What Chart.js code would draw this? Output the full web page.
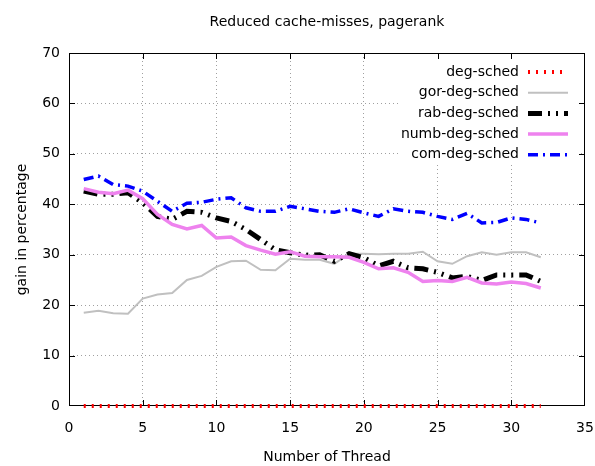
<!DOCTYPE html>
<html>
<head>
<meta charset="utf-8">
<script src="https://cdn.jsdelivr.net/npm/chart.js@4.4.1/dist/chart.umd.min.js"></script>
<style>
  html, body { margin: 0; padding: 0; background: #fff; }
  #wrap { width: 595px; height: 466px; }
</style>
</head>
<body>
<div id="wrap"><canvas id="grafico"></canvas></div>
<script>
const threads = [1, 2, 3, 4, 5, 6, 7, 8, 9, 10, 11, 12, 13, 14, 15, 16,
                 17, 18, 19, 20, 21, 22, 23, 24, 25, 26, 27, 28, 29, 30, 31, 32];
const degSched = [0, 0, 0, 0, 0, 0, 0, 0, 0, 0, 0, 0, 0, 0, 0, 0,
                  0, 0, 0, 0, 0, 0, 0, 0, 0, 0, 0, 0, 0, 0, 0, 0];
const gorDegSched = [18.5, 18.9, 18.4, 18.3, 21.3, 22.1, 22.4, 25.0, 25.8, 27.6, 28.7, 28.8, 27.0, 26.9, 29.2, 29.0,
                     29.0, 28.2, 30.2, 30.2, 30.1, 30.2, 30.2, 30.6, 28.7, 28.2, 29.7, 30.5, 30.0, 30.5, 30.5, 29.5];
const rabDegSched = [42.6, 42.0, 42.0, 42.3, 40.3, 37.6, 37.0, 38.6, 38.4, 37.3, 36.6, 35.0, 33.0, 31.0, 30.4, 29.9,
                     30.0, 28.7, 30.2, 29.4, 27.8, 28.7, 27.4, 27.2, 26.5, 25.4, 25.7, 24.9, 26.0, 26.0, 26.0, 24.7];
const numbDegSched = [43.1, 42.4, 42.1, 42.8, 41.1, 38.0, 36.0, 35.1, 35.8, 33.3, 33.5, 31.8, 30.9, 30.1, 30.6, 29.7,
                      29.6, 29.6, 29.5, 28.5, 27.2, 27.4, 26.5, 24.7, 24.9, 24.7, 25.5, 24.4, 24.2, 24.6, 24.3, 23.4];
const comDegSched = [44.9, 45.6, 43.9, 43.6, 42.6, 40.6, 38.6, 40.2, 40.4, 41.0, 41.3, 39.3, 38.6, 38.6, 39.6, 39.1,
                     38.6, 38.4, 39.1, 38.3, 37.6, 39.1, 38.6, 38.4, 37.6, 37.0, 38.2, 36.3, 36.4, 37.3, 37.0, 36.3];
const xTicks = [0, 5, 10, 15, 20, 25, 30, 35];
const yTicks = [0, 10, 20, 30, 40, 50, 60, 70];
const titulo = 'Reduced cache-misses, pagerank';

const FONT = "'DejaVu Sans', sans-serif";
const fuente = size => ({ family: FONT, size: size, weight: 'normal' });

const puntos = vals => threads.map((t, i) => ({ x: t, y: vals[i] }));

const series = [
    { label: 'deg-sched', data: degSched, color: '#ff0000', width: 4, dash: [2, 6] },
    { label: 'gor-deg-sched', data: gorDegSched, color: '#c0c0c0', width: 2, dash: [] },
    { label: 'rab-deg-sched', data: rabDegSched, color: '#000000', width: 5, dash: [14, 6, 2, 6, 2, 6] },
    { label: 'numb-deg-sched', data: numbDegSched, color: '#ee82ee', width: 3.5, dash: [] },
    { label: 'com-deg-sched', data: comDegSched, color: '#0000ff', width: 3.5, dash: [10, 5, 2, 5] }
];

// caja blanca de la leyenda + marco con ticks hacia adentro, titulo y leyenda
const marco = {
    id: 'marco',
    beforeDatasetsDraw(chart) {
        const { ctx, chartArea: a, scales } = chart;
        ctx.save();
        ctx.fillStyle = '#fff';
        ctx.fillRect(a.right - 186, a.top + 1, 180, 110);
        ctx.strokeStyle = '#000';
        ctx.lineWidth = 1;
        ctx.setLineDash([]);
        ctx.strokeRect(a.left + 0.5, a.top + 0.5, a.right - a.left - 1, a.bottom - a.top - 1);
        ctx.beginPath();
        xTicks.slice(1, -1).forEach(v => {
            const px = Math.round(scales.x.getPixelForValue(v)) + 0.5;
            ctx.moveTo(px, a.bottom); ctx.lineTo(px, a.bottom - 6);
            ctx.moveTo(px, a.top); ctx.lineTo(px, a.top + 6);
        });
        yTicks.slice(1, -1).forEach(v => {
            const py = Math.round(scales.y.getPixelForValue(v)) + 0.5;
            ctx.moveTo(a.left, py); ctx.lineTo(a.left + 6, py);
            ctx.moveTo(a.right, py); ctx.lineTo(a.right - 6, py);
        });
        ctx.stroke();
        ctx.restore();
    },
    afterDraw(chart) {
        const { ctx, chartArea: a } = chart;
        ctx.save();
        ctx.fillStyle = '#000';
        ctx.font = '14px ' + FONT;
        ctx.textAlign = 'center';
        ctx.textBaseline = 'middle';
        ctx.fillText(titulo, (a.left + a.right) / 2, 22);

        ctx.textAlign = 'right';
        series.forEach((s, i) => {
            const y = a.top + 19 + i * 20.7;
            ctx.fillStyle = '#000';
            ctx.fillText(s.label, a.right - 66, y);
            ctx.strokeStyle = s.color;
            ctx.lineWidth = s.width;
            ctx.setLineDash(s.dash);
            ctx.beginPath();
            ctx.moveTo(a.right - 57, y);
            ctx.lineTo(a.right - 17, y);
            ctx.stroke();
        });
        ctx.restore();
    }
};

const ctx = document.getElementById('grafico').getContext('2d');

new Chart(ctx, {
    type: 'line',
    data: {
        datasets: series.map((s, i) => ({
            label: s.label,
            data: puntos(s.data),
            borderColor: s.color,
            backgroundColor: s.color,
            borderWidth: s.width,
            borderDash: s.dash,
            pointRadius: 0,
            tension: 0,
            fill: false,
            clip: false,
            order: series.length - i
        }))
    },
    options: {
        responsive: true,
        maintainAspectRatio: false,
        animation: false,
        layout: { padding: { top: 53, right: 2, left: 0, bottom: 0 } },
        plugins: {
            legend: { display: false },
            tooltip: { enabled: false },
            title: { display: false }
        },
        scales: {
            x: {
                type: 'linear',
                min: 0,
                max: 35,
                afterFit: s => { s.height = 60; s.paddingLeft = 0; s.paddingRight = 10; },
                ticks: {
                    stepSize: 5,
                    padding: 14,
                    color: '#000',
                    font: fuente(14),
                    maxRotation: 0
                },
                grid: {
                    drawTicks: false,
                    color: c => (c.tick.value === 0 || c.tick.value === 35) ? 'rgba(0,0,0,0)' : '#a0a0a0',
                    lineWidth: 1
                },
                border: { display: false, dash: [1, 3] },
                title: {
                    display: true,
                    text: 'Number of Thread',
                    color: '#000',
                    font: fuente(14),
                    padding: { top: 0, bottom: 0 }
                }
            },
            y: {
                min: 0,
                max: 70,
                afterFit: s => { s.width = 69; },
                ticks: {
                    stepSize: 10,
                    padding: 9,
                    color: '#000',
                    font: fuente(14)
                },
                grid: {
                    drawTicks: false,
                    color: c => (c.tick.value === 0 || c.tick.value === 70) ? 'rgba(0,0,0,0)' : '#a0a0a0',
                    lineWidth: 1
                },
                border: { display: false, dash: [1, 3] },
                title: {
                    display: true,
                    text: 'gain in percentage',
                    color: '#000',
                    font: fuente(14),
                    padding: { top: 14, bottom: 0 }
                }
            }
        }
    },
    plugins: [marco]
});
</script>
</body>
</html>
